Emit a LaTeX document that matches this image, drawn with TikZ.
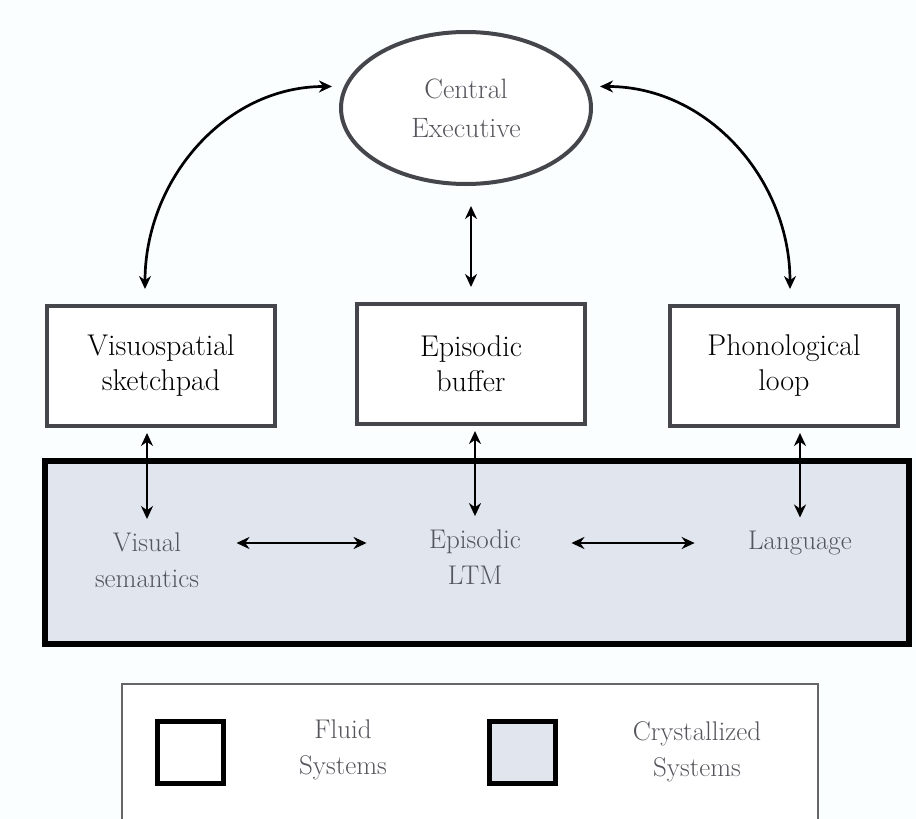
\documentclass[tikz,border=0pt]{standalone}
\usepackage{tikz}
\usetikzlibrary{arrows.meta,shapes.geometric}
\definecolor{crystal}{HTML}{E0E5EE}
\definecolor{edgegray}{HTML}{45464C}
\definecolor{txtgray}{HTML}{55565D}
\definecolor{paper}{HTML}{FBFEFF}
\begin{document}
\begin{tikzpicture}[x=1pt,y=1pt,>={Stealth[length=13pt,width=12pt]},
		fluidbox/.style={draw=edgegray,line width=4pt,fill=white,minimum width=228pt,minimum height=120pt,align=center,font=\fontsize{30}{35}\selectfont},
		ltmtext/.style={text=txtgray,align=center,font=\fontsize{27}{36}\selectfont},
		keybox/.style={draw=black,line width=5pt,minimum width=66pt,minimum height=62pt},
		link/.style={<->,line width=2.7pt}]
	\useasboundingbox (0,0) rectangle (916,-819);
	\fill[paper] (0,0) rectangle (916,-819);
	
	% central executive
	\node[ellipse,draw=edgegray,line width=4pt,fill=white,minimum width=250pt,minimum height=152pt,
		align=center,text=txtgray,font=\fontsize{28}{39}\selectfont] (ce) at (466,-108) {Central\\Executive};
	
	% fluid systems
	\node[fluidbox] (vis) at (161,-366) {Visuospatial\\sketchpad};
	\node[fluidbox] (epi) at (471,-364) {Episodic\\buffer};
	\node[fluidbox] (pho) at (784,-366) {Phonological\\loop};
	
	% crystallized systems
	\node[draw=black,line width=6pt,fill=crystal,minimum width=864pt,minimum height=183pt] (ltmbox) at (477,-552) {};
	\node[ltmtext] (vsem) at (147,-560) {Visual\\semantics};
	\node[ltmtext] (ltm) at (475,-557) {Episodic\\LTM};
	\node[ltmtext] (lang) at (800,-543) {Language};
	
	\draw[link] ([xshift=-16pt,yshift=15pt]vis.north) to[out=90,in=180] ([xshift=-12pt]ce.170);
	\draw[link] ([xshift=12pt]ce.10) to[out=0,in=90] ([xshift=6pt,yshift=15pt]pho.north);
	\draw[link] ([yshift=-20pt]epi.north |- ce.south) -- ([yshift=15pt]epi.north);
	
	\foreach \u/\v in {vis/vsem, epi/ltm, pho/lang}{
		\draw[link] ([yshift=-5pt]\v.north |- \u.south) -- ([yshift=10pt]\v.north);
	}
	\draw[link,shorten <=34pt,shorten >=59pt] (vsem.east |- lang) -- (ltm.west |- lang);
	\draw[link,shorten <=47pt,shorten >=50pt] (ltm.east |- lang) -- (lang.west);
	
	% legend
	\draw[gray!80!black,line width=1.5pt,fill=white] (122,-684) rectangle (818,-825);
	\node[keybox,fill=white] (fluidkey) at (190,-752) {};
	\node[keybox,fill=crystal] (crystkey) at (522,-752) {};
	\node[ltmtext] (fluidtxt) at (343,-750) {Fluid\\Systems};
	\node[ltmtext] (crysttxt) at (697,-752) {Crystallized\\Systems};
\end{tikzpicture}
\end{document}
